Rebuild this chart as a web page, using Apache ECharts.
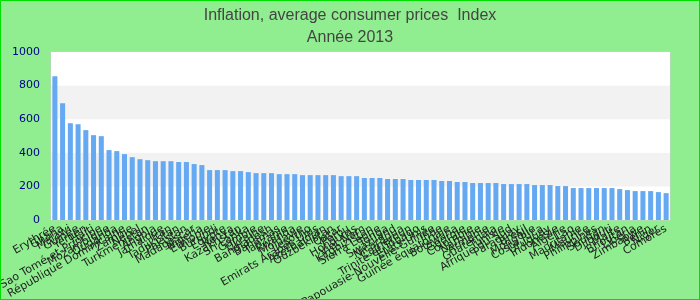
<!DOCTYPE html>
<html>
<head>
<meta charset="utf-8">
<script src="https://cdn.jsdelivr.net/npm/echarts@6/dist/echarts.min.js"></script>
<style>
html,body{margin:0;padding:0;}
#chart{width:698px;height:298px;border:1px solid #00e000;background:#90EE90;}
</style>
</head>
<body>
<div id="chart"></div>
<script>
const categories = ["Erythrée","Ghana","Malawi","Guinée","Yémen","Haïti","Sao Tomé-et-Principe","Mozambique","Ouganda","République Dominicaine","Zambie","Népal","Turkménistan","Angola","Jamaïque","Iran","Tadjikistan","Pakistan","Madagascar","Nigeria","Ethiopie","Burundi","Egypte","Kenya","Kazakhstan","Sri Lanka","Gambie","Ukraine","Bangladesh","Bahamas","Tanzanie","Rwanda","Moldavie","Lesotho","Emirats Arabes Unis","Azerbaïdjan","Ouzbékistan","Qatar","Pérou","Honduras","Viet Nam","Kirghizistan","Sierra Leone","Tonga","Swaziland","Nicaragua","Cameroun","Trinité-et-Tobago","Etats-Unis","Papouasie-Nouvelle-Guinée","Inde","Guinée équatoriale","Botswana","Géorgie","Colombie","Namibie","Arménie","Guatemala","Tunisie","Afrique du Sud","Paraguay","Brésil","Mongolie","Costa Rica","Uruguay","Indonésie","Algérie","Lao","Mauritanie","Maurice","Philippines","Soudan","Djibouti","Malte","Bhoutan","Libéria","Zimbabwe","Bénin","Niger","Comores"];
const values = [855,695,576,570,535,505,499,416,410,392,374,362,356,350,350,350,345,345,333,327,297,297,297,291,291,285,279,279,279,273,273,273,267,267,267,267,267,261,261,261,250,250,250,244,244,244,238,238,238,238,232,232,226,226,220,220,220,220,214,214,214,214,208,208,208,202,202,190,190,190,190,190,190,184,178,172,172,172,166,160];
const yTicks = [0,200,400,600,800,1000];
const titleText = "Inflation, average consumer prices  Index";
const subtitleText = "Année 2013";

const chart = echarts.init(document.getElementById('chart'), null, {renderer:'canvas'});
chart.setOption({
  backgroundColor: '#90EE90',
  animation: false,
  title: {
    text: titleText,
    subtext: subtitleText,
    left: 'center',
    top: 2,
    itemGap: 6,
    textStyle: {fontFamily: 'Liberation Sans', fontSize: 16, fontWeight: 'normal', color: '#444'},
    subtextStyle: {fontFamily: 'Liberation Sans', fontSize: 16, color: '#444'}
  },
  grid: {
    left: 50, right: 29, top: 51, bottom: 79,
    outerBoundsMode: 'none',
    containLabel: false,
    show: true, backgroundColor: '#fff', borderColor: '#ccc', borderWidth: 1
  },
  xAxis: {
    type: 'category',
    data: categories,
    axisLine: {show: false},
    axisTick: {show: false},
    axisLabel: {interval: 0, rotate: 30, fontSize: 11, color: '#222', fontFamily: 'DejaVu Sans', margin: 8}
  },
  yAxis: {
    type: 'value',
    min: yTicks[0], max: yTicks[yTicks.length-1], interval: 200,
    axisLine: {show: false},
    axisTick: {show: false},
    splitLine: {show: false},
    splitArea: {show: true, areaStyle: {color: ['#ffffff', '#f2f2f2']}},
    axisLabel: {fontSize: 11, color: '#00008B', fontFamily: 'DejaVu Sans', margin: 11, formatter: function(v){ return String(v); }}
  },
  series: [{
    type: 'bar',
    data: values,
    barCategoryGap: '35%',
    itemStyle: {color: '#64A9F1'}
  }]
});
</script>
</body>
</html>
